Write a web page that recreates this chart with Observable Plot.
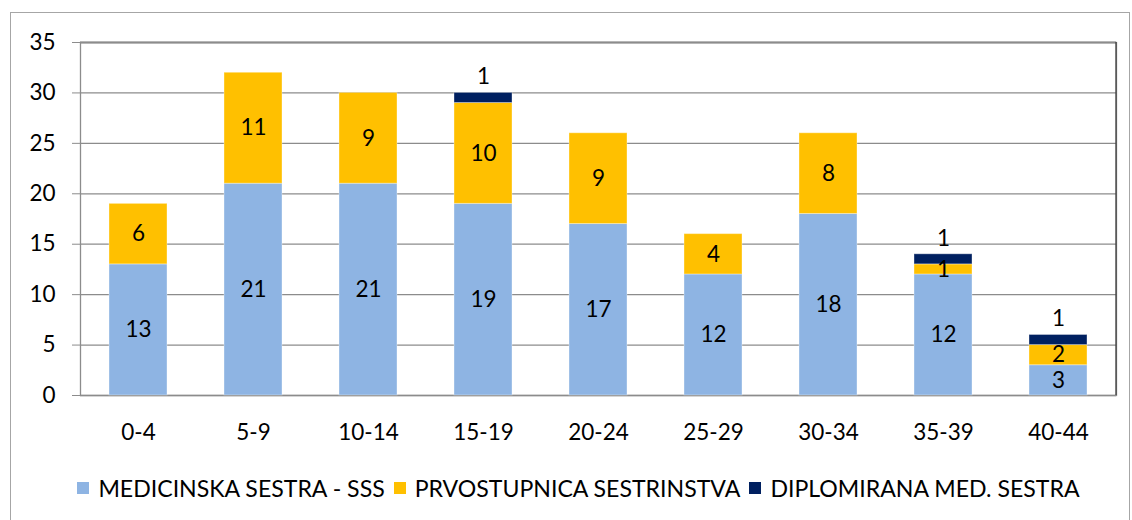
<!DOCTYPE html>
<html><head><meta charset="utf-8">
<script src="https://cdn.jsdelivr.net/npm/d3@7"></script>
<script src="https://cdn.jsdelivr.net/npm/@observablehq/plot@0.6"></script>
<style>
body{margin:0;background:#fff;font-family:Lato,"Open Sans",sans-serif;}
#frame{position:absolute;left:10px;top:12px;width:1120px;height:520px;border:1.5px solid #a6a6a6;box-sizing:border-box;}
#chart{position:absolute;left:0;top:0;}
#legend{position:absolute;top:474px;left:0;width:1132px;display:flex;justify-content:center;align-items:center;font-size:23.1px;color:#000;padding-left:34px;box-sizing:border-box;}
.item{display:flex;align-items:center;margin-right:9px;}
.sw{width:12px;height:12px;margin-right:9px;}
</style></head>
<body>
<div id="frame"></div>
<div id="chart"></div>
<div id="legend"></div>
<script>
const categories = ["0-4","5-9","10-14","15-19","20-24","25-29","30-34","35-39","40-44"];
const seriesNames = ["MEDICINSKA SESTRA - SSS","PRVOSTUPNICA SESTRINSTVA","DIPLOMIRANA MED. SESTRA"];
const medicinska = [13,21,21,19,17,12,18,12,3];
const prvostupnica = [6,11,9,10,9,4,8,1,2];
const diplomirana = [0,0,0,1,0,0,0,1,1];
const colors = ["#8EB4E3","#FFC000","#002060"];
const yTicks = [0,5,10,15,20,25,30,35];

const seriesValues = [medicinska, prvostupnica, diplomirana];
const rows = [];
categories.forEach((c, i) => {
  let base = 0;
  seriesValues.forEach((vals, s) => {
    const v = vals[i];
    rows.push({cat: c, series: seriesNames[s], s, value: v, y1: base, y2: base + v, mid: base + v / 2});
    base += v;
  });
});
const segs = rows.filter(d => d.value > 0);
const inner = segs.filter(d => d.s < 2);
const outer = segs.filter(d => d.s === 2);

const FS = 22.5;
const chart = Plot.plot({
  width: 1132,
  height: 440,
  marginLeft: 80,
  marginRight: 16,
  marginTop: 42,
  marginBottom: 45,
  style: {fontFamily: "Lato, 'Open Sans', sans-serif", fontSize: FS + "px", color: "#000", background: "transparent", overflow: "visible"},
  x: {domain: categories, paddingInner: 0.495, paddingOuter: 0.25, label: null},
  y: {domain: [0, 35], label: null},
  color: {domain: seriesNames, range: colors},
  marks: [
    Plot.ruleY(yTicks, {stroke: "#8c8c8c", strokeWidth: 1.3}),
    Plot.ruleY([35], {stroke: "#595959", strokeWidth: 1.3}),
    Plot.frame({stroke: "#8c8c8c", strokeWidth: 1.3}),
    (index, scales, values, dims) => {
      const l = document.createElementNS("http://www.w3.org/2000/svg", "line");
      const x = dims.width - dims.marginRight;
      l.setAttribute("x1", x); l.setAttribute("x2", x);
      l.setAttribute("y1", dims.marginTop); l.setAttribute("y2", dims.height - dims.marginBottom);
      l.setAttribute("stroke", "#404040"); l.setAttribute("stroke-width", 1.3);
      return l;
    },
    Plot.barY(segs, {x: "cat", y1: "y1", y2: "y2", fill: "series", stroke: "#ffffff", strokeOpacity: 0.35, strokeWidth: 1}),
    Plot.axisY({ticks: yTicks, tickSize: 8, tickPadding: 17, stroke: "#8c8c8c", fontSize: FS}),
    Plot.axisX({tickSize: 0, tickPadding: 29, fontSize: FS}),
    Plot.text(inner, {x: "cat", y: "mid", text: d => String(d.value), fill: "#000", fontSize: FS}),
    Plot.text(outer, {x: "cat", y: "y2", text: d => String(d.value), fill: "#000", fontSize: FS, dy: -16})
  ]
});
document.getElementById("chart").appendChild(chart);

const legend = document.getElementById("legend");
seriesNames.forEach((n, i) => {
  const it = document.createElement("div"); it.className = "item";
  const sw = document.createElement("div"); sw.className = "sw"; sw.style.background = colors[i];
  const t = document.createElement("span"); t.textContent = n;
  it.appendChild(sw); it.appendChild(t); legend.appendChild(it);
});
</script>
</body></html>
